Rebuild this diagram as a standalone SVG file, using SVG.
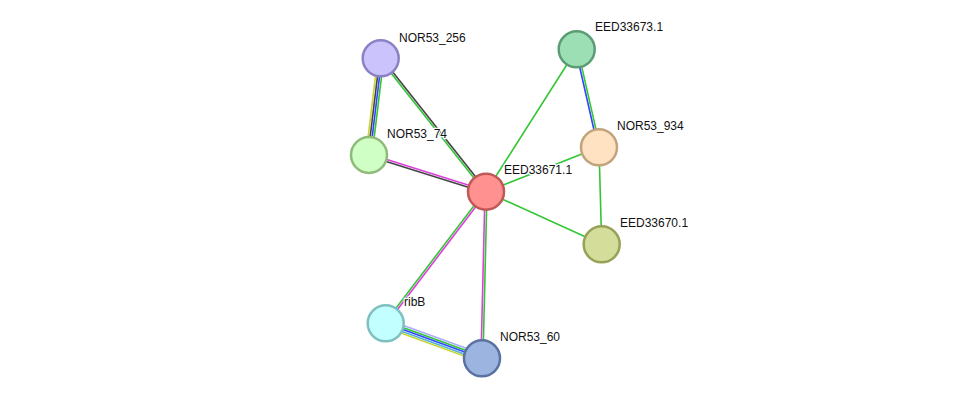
<svg xmlns="http://www.w3.org/2000/svg" width="975" height="404" viewBox="0 0 975 404">
<style>
.e{stroke-width:1.6;fill:none}
.g{stroke:#33c633}.k{stroke:#444444}.b{stroke:#3344ff}.y{stroke:#c6d63a}.m{stroke:#dd3fdd}.c{stroke:#4fb0e0}.l{stroke:#aaaaff}
.n{stroke-width:2.5}
.t{font-family:"Liberation Sans",Arial,sans-serif;font-size:12px;fill:#111;stroke:#fff;stroke-width:2.5;paint-order:stroke;stroke-linejoin:round}
</style>
<rect width="975" height="404" fill="#fff"/>
<g id="connectors">
<line class="e y" x1="377.7" y1="57.9" x2="366.0" y2="154.6"/>
<line class="e k" x1="379.7" y1="58.2" x2="368.0" y2="154.9"/>
<line class="e b" x1="381.7" y1="58.4" x2="370.0" y2="155.1"/>
<line class="e g" x1="383.7" y1="58.7" x2="372.0" y2="155.4"/>
<line class="e g" x1="379.9" y1="58.9" x2="485.2" y2="192.3"/>
<line class="e k" x1="381.5" y1="57.7" x2="486.8" y2="191.1"/>
<line class="e m" x1="369.3" y1="154.0" x2="486.3" y2="190.7"/>
<line class="e k" x1="368.7" y1="156.0" x2="485.7" y2="192.7"/>
<line class="e g" x1="576.7" y1="49.3" x2="486" y2="191.7"/>
<line class="e b" x1="575.7" y1="49.5" x2="598.0" y2="147.5"/>
<line class="e g" x1="577.7" y1="49.1" x2="600.0" y2="147.1"/>
<line class="e g" x1="599" y1="147.3" x2="486" y2="191.7"/>
<line class="e g" x1="599" y1="147.3" x2="601.7" y2="244.3"/>
<line class="e g" x1="486" y1="191.7" x2="601.7" y2="244.3"/>
<line class="e g" x1="485.2" y1="191.1" x2="384.9" y2="322.7"/>
<line class="e m" x1="486.8" y1="192.3" x2="386.5" y2="323.9"/>
<line class="e m" x1="485" y1="191.7" x2="481" y2="358.3"/>
<line class="e g" x1="487" y1="191.7" x2="483" y2="358.3"/>
<line class="e l" x1="387.1" y1="319.5" x2="483.4" y2="354.5"/>
<line class="e g" x1="386.4" y1="321.4" x2="482.7" y2="356.4"/>
<line class="e b" x1="385.7" y1="323.3" x2="482" y2="358.3"/>
<line class="e c" x1="385.0" y1="325.2" x2="481.3" y2="360.2"/>
<line class="e y" x1="384.3" y1="327.1" x2="480.6" y2="362.1"/>
</g>
<g id="NOR53_256"><circle class="n" cx="380.7" cy="58.3" r="18" fill="#cbc3fc" stroke="#8a82c6"/><text class="t" x="399" y="42">NOR53_256</text></g>
<g id="NOR53_74"><circle class="n" cx="369" cy="155" r="18" fill="#cfffc4" stroke="#8fbb7a"/><text class="t" x="387" y="138">NOR53_74</text></g>
<g id="EED33671.1"><circle class="n" cx="486" cy="191.7" r="18" fill="#ff9191" stroke="#c05858"/><text class="t" x="504" y="174">EED33671.1</text></g>
<g id="EED33673.1"><circle class="n" cx="576.7" cy="49.3" r="18" fill="#9ddfb4" stroke="#5c9c74"/><text class="t" x="595" y="31">EED33673.1</text></g>
<g id="NOR53_934"><circle class="n" cx="599" cy="147.3" r="18" fill="#ffe2c2" stroke="#c2a47c"/><text class="t" x="617" y="130">NOR53_934</text></g>
<g id="EED33670.1"><circle class="n" cx="601.7" cy="244.3" r="18" fill="#d4de9a" stroke="#96a257"/><text class="t" x="620" y="227">EED33670.1</text></g>
<g id="ribB"><circle class="n" cx="385.7" cy="323.3" r="18" fill="#c2ffff" stroke="#7fbfbf"/><text class="t" x="404" y="306">ribB</text></g>
<g id="NOR53_60"><circle class="n" cx="482" cy="358.3" r="18" fill="#9bb4e0" stroke="#5a72a2"/><text class="t" x="500" y="341">NOR53_60</text></g>
</svg>
